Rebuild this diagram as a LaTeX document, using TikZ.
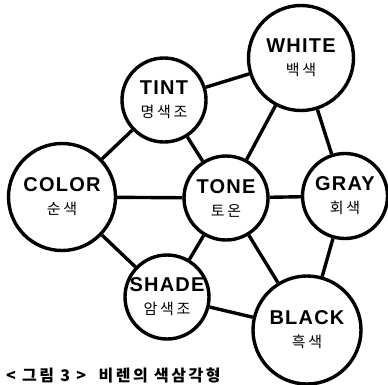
\documentclass[tikz,border=0pt]{standalone}
\usepackage{fontspec}
\setmainfont{Liberation Sans}
\newfontfamily\enfont[LetterSpace=6]{Liberation Sans}
\newfontfamily\kofont[LetterSpace=18]{Noto Sans CJK KR}
\newfontfamily\capfont[LetterSpace=16]{Noto Sans CJK KR}
\usetikzlibrary{positioning}

\newcommand\kline[1]{{\kofont\mdseries\fontsize{15}{15}\selectfont #1}}

\begin{document}
\begin{tikzpicture}[
  x=1pt, y=-1pt,
  % --- one style for every colour circle
  hue/.style={draw, circle, line width=3.4pt, inner sep=0pt, align=center,
    font=\enfont\bfseries\fontsize{20}{20}\selectfont},
  % --- the connecting lines
  link/.style={line width=3.4pt},
]
\useasboundingbox (0,0) rectangle (388,384);
\clip (0,0) rectangle (388,384);

%========================
% Circles
%========================
\node[hue, minimum size=107pt] (color) at (62,197) {COLOR\\[3pt]\kline{순색}};
\node[hue, minimum size=84pt] (tint) at (164,100) {TINT\\[3pt]\kline{명색조}};
\node[hue, minimum size=84pt] (tone) at (226,198) {TONE\\[3pt]\kline{토온}};
\node[hue, minimum size=82pt] (shade) at (167,297) {SHADE\\[3pt]\kline{암색조}};
\node[hue, minimum size=105pt] (white) at (301,58) {WHITE\\[3pt]\kline{백색}};
\node[hue, minimum size=85pt] (gray) at (345,196) {GRAY\\[3pt]\kline{회색}};
\node[hue, minimum size=108pt] (black) at (307,330) {BLACK\\[3pt]\kline{흑색}};

%========================
% Links
%========================
\draw[link] (color) -- (tint);
\draw[link] (color) -- (tone);
\draw[link] (color) -- (shade);
\draw[link] (tint) -- (white);
\draw[link] (tint) -- (tone);
\draw[link] (white) -- (tone);
\draw[link] (white) -- (gray);
\draw[link] (tone) -- (gray);
\draw[link] (tone) -- (shade);
\draw[link] (tone) -- (black);
\draw[link] (shade) -- (black);
\draw[link] (gray) -- (black);

% caption along the bottom edge
\node[anchor=base west, inner sep=0pt, font=\capfont\bfseries\fontsize{16}{16}\selectfont]
  (caption) at (6,381) {<\ 그림\ 3\ >\ \ 비렌의\ 색삼각형};
\end{tikzpicture}
\end{document}
